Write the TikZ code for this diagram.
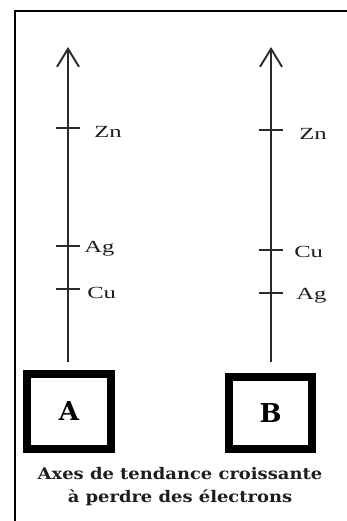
\documentclass[tikz,border=0pt]{standalone}
\usepackage{fontspec}
\setmainfont{Liberation Serif}
\newfontfamily\boldserif{DejaVu Serif}
\usetikzlibrary{arrows.meta,positioning}
\definecolor{AxeDark}{HTML}{2A2A2A}
\definecolor{AxeText}{HTML}{1E1E1E}
\tikzset{
  axisline/.style={-{Straight Barb[length=18pt,width=22pt]},line width=1.9pt,draw=AxeDark},
  tickmark/.style={line width=1.1pt,draw=AxeDark},
  metal/.style={anchor=base west,inner sep=0pt,text=AxeText,font=\fontsize{17}{20}\selectfont,xscale=1.45,transform shape},
  letterbox/.style={draw=black,line width=8pt,minimum width=84pt,minimum height=75pt,inner sep=0pt,font=\boldserif\bfseries\fontsize{26}{28}\selectfont},
  legend/.style={align=center,inner sep=0pt,text=AxeText,font=\boldserif\bfseries\fontsize{16}{23}\selectfont,xscale=1.12,transform shape},
  frameline/.style={line width=2.8pt,draw=black}
}

\begin{document}
\begin{tikzpicture}[x=1pt,y=-1pt]
\useasboundingbox (0,0) rectangle (347,521);
\clip (0,0) rectangle (347,521);
\draw[frameline] (15,11) rectangle (360,540);
% boites
\node[letterbox] (boxa) at (69,411.5) {A};
\node[letterbox,minimum width=83pt,minimum height=72pt] (boxb) at (270.5,413) {B};
% axe A
\coordinate (basea) at (68,362);
\coordinate (topa) at (68,47);
\draw[axisline] (basea) -- (topa);
\coordinate (zna) at (68,128);
\coordinate (aga) at (68,246);
\coordinate (cua) at (68,289);
\foreach \p in {zna,aga,cua}
  \draw[tickmark] ([xshift=-12pt]\p) -- ([xshift=12pt]\p);
\node[metal] (zna-l) at (94,138) {Zn};
\node[metal] (aga-l) at (84,252) {Ag};
\node[metal] (cua-l) at (87,298) {Cu};
% axe B
\coordinate (baseb) at (271,362);
\coordinate (topb) at (271,47);
\draw[axisline] (baseb) -- (topb);
\coordinate (znb) at (271,130);
\coordinate (cub) at (271,250);
\coordinate (agb) at (271,293);
\foreach \p in {znb,cub,agb}
  \draw[tickmark] ([xshift=-12pt]\p) -- ([xshift=12pt]\p);
\node[metal] (znb-l) at (299,140) {Zn};
\node[metal] (cub-l) at (294,257) {Cu};
\node[metal] (agb-l) at (296,299) {Ag};
% legende
\node[legend] (cap) at (180,487) {Axes de tendance croissante\\à perdre des électrons};
\end{tikzpicture}
\end{document}
